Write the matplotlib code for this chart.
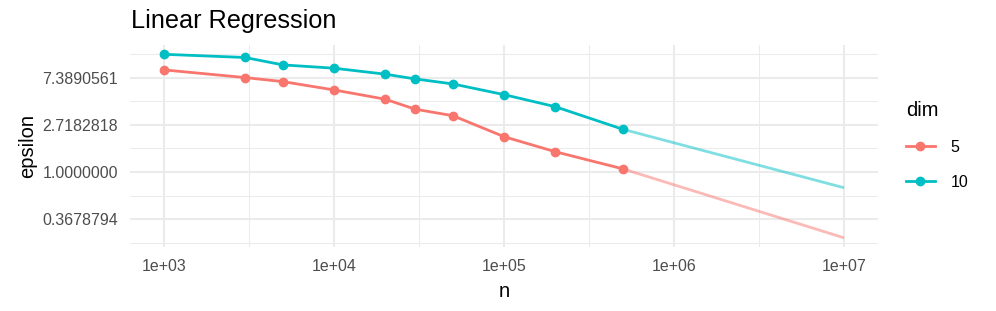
import numpy as np
import matplotlib
matplotlib.use('Agg')
import matplotlib.pyplot as plt
from matplotlib.lines import Line2D

plt.rcParams['font.family'] = ['Liberation Sans', 'DejaVu Sans']

# data
n = [1e3, 3e3, 5e3, 1e4, 2e4, 3e4, 5e4, 1e5, 2e5, 5e5]
eps_5 = [8.76, 7.44, 6.83, 5.72, 4.70, 3.80, 3.31, 2.12, 1.54, 1.07]
eps_10 = [12.2, 11.4, 9.74, 9.08, 8.0, 7.23, 6.5, 5.18, 4.01, 2.48]
n_extra = [5e5, 1e7]
eps_5_extra = [1.07, 0.247]
eps_10_extra = [2.48, 0.716]
dims = ['5', '10']
colors = ['#F8766D', '#00BFC4']

fig = plt.figure(figsize=(9.96, 3.11), dpi=100)
ax = fig.add_axes([130/996, 64/311, 748/996, 202/311])

for ys, ye, c in [(eps_5, eps_5_extra, colors[0]), (eps_10, eps_10_extra, colors[1])]:
    ax.plot(n_extra, ye, color=c, alpha=0.5, lw=2, solid_capstyle='butt', zorder=3)
    ax.plot(n, ys, color=c, lw=2, marker='o', ms=6, zorder=4)

ax.set_xscale('log')
ax.set_yscale('log', base=np.e)
ax.set_xlim(10**2.8, 10**7.2)
ax.set_ylim(np.exp(-1.593), np.exp(2.699))

xt = [1e3, 1e4, 1e5, 1e6, 1e7]
ax.set_xticks(xt)
ax.set_xticklabels(['1e+03', '1e+04', '1e+05', '1e+06', '1e+07'])
ax.set_xticks([10**k for k in [3.5, 4.5, 5.5, 6.5]], minor=True)
ax.set_xticklabels([], minor=True)
yt = [np.exp(k) for k in [-1, 0, 1, 2]]
ax.set_yticks(yt)
ax.set_yticklabels(['0.3678794', '1.0000000', '2.7182818', '7.3890561'])
ax.set_yticks([np.exp(k) for k in [-1.5, -0.5, 0.5, 1.5, 2.5]], minor=True)
ax.set_yticklabels([], minor=True)

ax.grid(True, which='major', color='#EBEBEB', lw=1.5)
ax.grid(True, which='minor', color='#EBEBEB', lw=0.75)
ax.set_axisbelow(True)
for s in ax.spines.values():
    s.set_visible(False)
ax.tick_params(which='both', length=0, labelsize=11.5, labelcolor='#4D4D4D')
ax.tick_params(axis='x', pad=8.3)
ax.tick_params(axis='y', pad=8.5)

ax.set_xlabel('n', fontsize=14.5, labelpad=6)
ax.set_ylabel('epsilon', fontsize=14.5, labelpad=4)
fig.text(131/996, 1 - 21/311, 'Linear Regression', fontsize=18.2, va='center', ha='left')

handles = [Line2D([], [], color=c, lw=2, marker='o', ms=6) for c in colors]
leg = ax.legend(handles, dims, title='dim', loc='upper left', frameon=False,
                bbox_to_anchor=(906/996, 1 - 101/311), bbox_transform=fig.transFigure,
                fontsize=11.5, title_fontsize=14.5, handlelength=1.8,
                labelspacing=1.25, handletextpad=1.0, borderaxespad=0, borderpad=0)
leg._legend_box.align = 'left'

fig.savefig('out.png', dpi=100)
